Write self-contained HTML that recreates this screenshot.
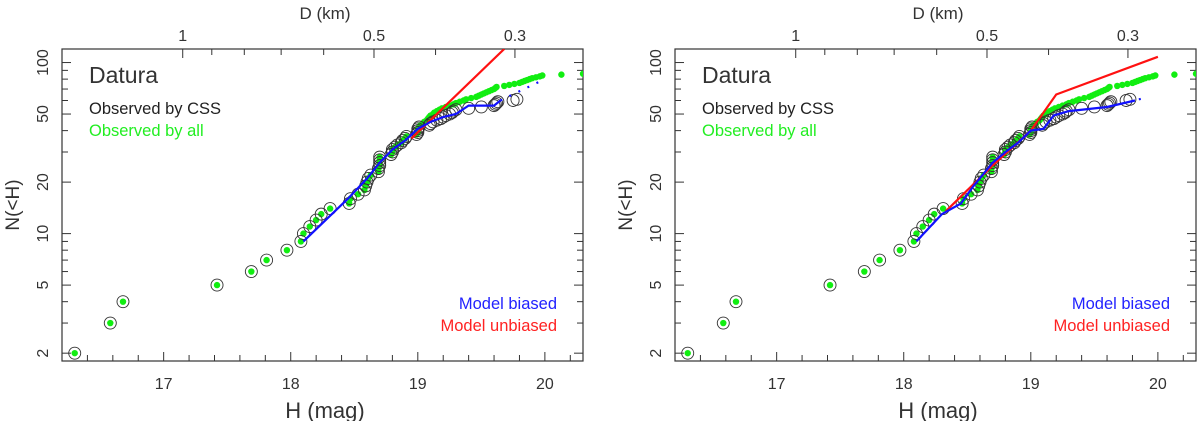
<!DOCTYPE html>
<html><head><meta charset="utf-8"><style>
html,body{margin:0;padding:0;background:#fff;}
svg{display:block;font-family:"Liberation Sans",sans-serif;}
</style></head><body>
<svg id="chart" width="1200" height="421" viewBox="0 0 1200 421" xmlns="http://www.w3.org/2000/svg"></svg>
<script>
// ---- data ----
const cssH = [16.3,16.58,16.68,17.42,17.69,17.81,17.97,18.08,18.1,18.15,18.2,18.24,18.31,18.46,18.47,18.53,18.58,18.59,18.6,18.61,18.63,18.69,18.69,18.7,18.7,18.7,18.7,18.79,18.8,18.8,18.82,18.84,18.87,18.88,18.9,18.91,18.99,19.0,19.0,19.0,19.01,19.09,19.1,19.12,19.15,19.18,19.2,19.22,19.25,19.27,19.28,19.3,19.4,19.5,19.6,19.61,19.62,19.63,19.75,19.78];
const cssN0 = 2;
const allH = [16.3,16.58,16.68,17.42,17.69,17.81,17.97,18.08,18.1,18.15,18.2,18.24,18.31,18.46,18.47,18.53,18.58,18.59,18.6,18.61,18.63,18.69,18.69,18.7,18.7,18.7,18.7,18.79,18.8,18.8,18.82,18.84,18.87,18.88,18.9,18.91,18.99,19.0,19.0,19.0,19.01,19.02,19.04,19.05,19.07,19.08,19.09,19.1,19.12,19.13,19.15,19.17,19.19,19.22,19.25,19.28,19.3,19.33,19.36,19.38,19.42,19.46,19.48,19.5,19.52,19.54,19.56,19.58,19.6,19.61,19.62,19.68,19.72,19.76,19.8,19.82,19.84,19.86,19.88,19.9,19.93,19.96,19.98,20.13,20.3];
const allN0 = 2;
const leftBlueH = [18.1,18.45,18.6,18.7,18.8,18.9,19.0,19.1,19.2,19.3,19.4,19.6,19.65];
const leftBlueN = [9,16,21,26,31,35,41,45,48,50,56,56,60];
const leftBlueDotH = [19.65,19.8,20.0];
const leftBlueDotN = [60,68,80];
const leftRedH = [18.95,19.68];
const leftRedN = [36,120];
const rightBlueH = [18.1,18.3,18.45,18.55,18.7,18.8,18.9,19.0,19.1,19.18,19.3,19.6,19.82];
const rightBlueN = [9,13,15,19,26,30,34,40,41,49,52,55,60];
const rightBlueDotH = [19.85,19.9];
const rightBlueDotN = [61,62];
const rightRedH = [18.33,18.7,19.0,19.2,20.0];
const rightRedN = [13.5,25,40,65,108];
const xTicks = [17,18,19,20];
const yTicks = [2,5,10,20,50,100];
const yMinor = [2,3,4,5,6,7,8,9,10,20,30,40,50,60,70,80,90,100];
const dTicks = [1,0.5,0.3];
const dMinor = [1,0.9,0.8,0.7,0.6,0.5,0.4,0.3];

const NS='http://www.w3.org/2000/svg';
const svg=document.getElementById('chart');
function mk(tag,attrs,parent){const e=document.createElementNS(NS,tag);for(const k in attrs)e.setAttribute(k,attrs[k]);(parent||svg).appendChild(e);return e;}

function panel(x0,prefix,blueH,blueN,bdH,bdN,redH,redN){
  const x1=x0+521, y0=49, y1=361;
  const hMin=16.2,hMax=20.3,nMin=1.8,nMax=120;
  const X=h=>x0+(h-hMin)/(hMax-hMin)*(x1-x0);
  const Y=n=>y0+(Math.log10(nMax)-Math.log10(n))/(Math.log10(nMax)-Math.log10(nMin))*(y1-y0);
  const Hd=d=>17.15-5*Math.log10(d);
  const g=mk('g',{});
  
  
  const fr=mk('rect',{x:x0,y:y0,width:x1-x0,height:y1-y0,fill:'none',stroke:'#333','stroke-width':1.2},g);
  
  
  for(let h=16.4;h<20.31;h+=0.2){const hh=Math.round(h*10)/10;const maj=Math.abs(hh-Math.round(hh))<0.01;const L=maj?9:6;
    mk('line',{x1:X(hh),x2:X(hh),y1:y1,y2:y1-L,stroke:'#333','stroke-width':1},g);}
  xTicks.forEach(t=>{const e=mk('text',{x:X(t),y:389,'font-size':16,'text-anchor':'middle',fill:'#333'},g);e.textContent=t;
    
    });
  dMinor.forEach(d=>{const maj=dTicks.includes(d);mk('line',{x1:X(Hd(d)),x2:X(Hd(d)),y1:y0,y2:y0+(maj?9:6),stroke:'#333','stroke-width':1},g);});
  dTicks.forEach(d=>{const e=mk('text',{x:X(Hd(d)),y:41,'font-size':16,'text-anchor':'middle',fill:'#333'},g);e.textContent=d;
    
    });
  yMinor.forEach(n=>{const maj=yTicks.includes(n)||n===10;const L=maj?9:6;
    mk('line',{x1:x0,x2:x0+L,y1:Y(n),y2:Y(n),stroke:'#333','stroke-width':1},g);
    mk('line',{x1:x1,x2:x1-L,y1:Y(n),y2:Y(n),stroke:'#333','stroke-width':1},g);});
  yTicks.forEach(n=>{const e=mk('text',{x:0,y:0,'font-size':16,'text-anchor':'middle',fill:'#333',transform:`translate(${x0-14},${Y(n)}) rotate(-90)`},g);e.textContent=n;
    
    });
  let t=mk('text',{x:x0+263,y:19,'font-size':17,'text-anchor':'middle',fill:'#333'},g);t.textContent='D (km)';
  
  
  t=mk('text',{x:x0+263,y:418,'font-size':22,'text-anchor':'middle',fill:'#333'},g);t.textContent='H (mag)';
  
  
  t=mk('text',{x:0,y:0,'font-size':19,'text-anchor':'middle',fill:'#333',transform:`translate(${x0-43},205) rotate(-90)`},g);t.textContent='N(<H)';
  
  
  t=mk('text',{x:x0+27,y:83,'font-size':23,fill:'#333'},g);t.textContent='Datura';
  
  
  t=mk('text',{x:x0+27,y:114,'font-size':16.5,fill:'#222'},g);t.textContent='Observed by CSS';
  
  
  t=mk('text',{x:x0+27,y:136,'font-size':16.5,fill:'#22ee22'},g);t.textContent='Observed by all';
  
  
  t=mk('text',{x:x1-26,y:309,'font-size':16.5,'text-anchor':'end',fill:'#2222ff'},g);t.textContent='Model biased';
  
  
  t=mk('text',{x:x1-26,y:331,'font-size':16.5,'text-anchor':'end',fill:'#ff2222'},g);t.textContent='Model unbiased';
  
  
  const cid=prefix+'-clip';
  const cp=mk('clipPath',{id:cid},g);mk('rect',{x:x0,y:y0,width:x1-x0,height:y1-y0},cp);
  const pg=mk('g',{'clip-path':`url(#${cid})`},g);
  allH.forEach((h,i)=>{const c=mk('circle',{cx:X(h),cy:Y(allN0+i),r:3.2,fill:'#11ee11'},pg);
    
    });
  cssH.forEach((h,i)=>{const c=mk('circle',{cx:X(h),cy:Y(cssN0+i),r:6,fill:'none',stroke:'#333','stroke-width':0.9},pg);
    
    });
  const pts=(H,N)=>H.map((h,i)=>X(h).toFixed(1)+','+Y(N[i]).toFixed(1)).join(' ');
  let p=mk('polyline',{points:pts(redH,redN),fill:'none',stroke:'#ff1111','stroke-width':2.2},pg);
  
  
  p=mk('polyline',{points:pts(blueH,blueN),fill:'none',stroke:'#1111ff','stroke-width':2.2},pg);
  
  
  p=mk('polyline',{points:pts(bdH,bdN),fill:'none',stroke:'#1111ff','stroke-width':2.2,'stroke-dasharray':'2 8'},pg);
  
  
}
panel(62,'left',leftBlueH,leftBlueN,leftBlueDotH,leftBlueDotN,leftRedH,leftRedN);
panel(675,'right',rightBlueH,rightBlueN,rightBlueDotH,rightBlueDotN,rightRedH,rightRedN);
</script>
</body></html>
